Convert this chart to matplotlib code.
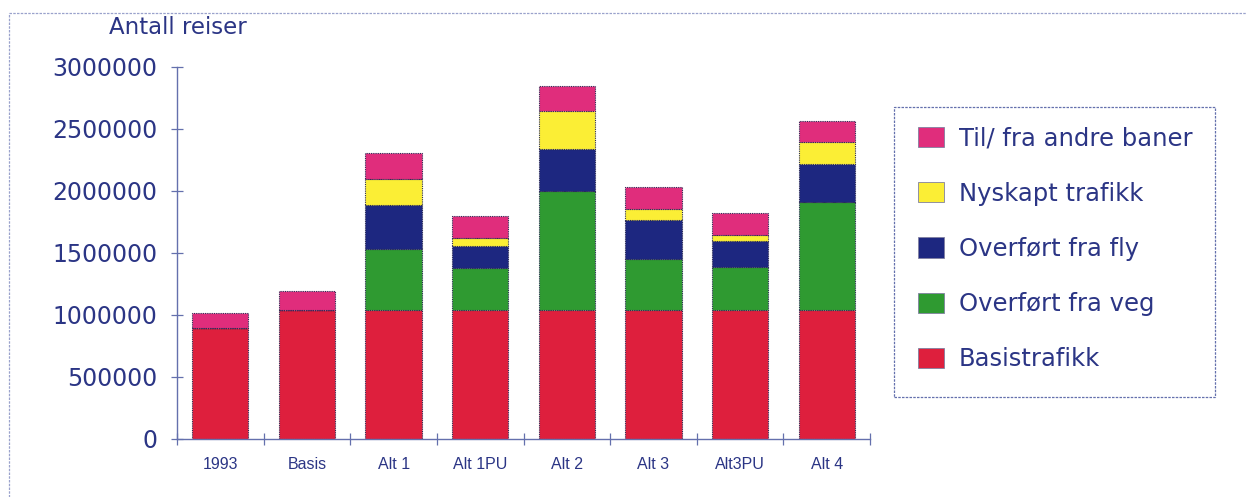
import matplotlib
matplotlib.use("Agg")
import matplotlib.pyplot as plt
from matplotlib.lines import Line2D
from matplotlib.patches import Patch, Rectangle
import numpy as np

# Categories and series (number of journeys)
categories = ["1993", "Basis", "Alt 1", "Alt 1PU", "Alt 2", "Alt 3", "Alt3PU", "Alt 4"]
basistrafikk = [890000, 1040000, 1040000, 1040000, 1040000, 1040000, 1040000, 1040000]
overfort_veg = [0, 0, 490000, 335000, 960000, 408000, 345000, 873000]
overfort_fly = [0, 0, 355000, 183000, 335000, 314000, 208000, 301000]
nyskapt = [0, 0, 209000, 65000, 310000, 90000, 54000, 180000]
andre_baner = [125000, 148000, 210000, 177000, 205000, 180000, 174000, 172000]

series_names = ["Basistrafikk", "Overført fra veg", "Overført fra fly",
                "Nyskapt trafikk", "Til/ fra andre baner"]
series_values = [basistrafikk, overfort_veg, overfort_fly, nyskapt, andre_baner]
series_colors = ["#de1f3d", "#2f9a31", "#1d2780", "#fbee35", "#e02d7c"]

y_ticks = [0, 500000, 1000000, 1500000, 2000000, 2500000, 3000000]

text_color = "#2b3585"
axis_color = "#6470ad"
plt.rcParams["font.family"] = ["DejaVu Sans"]

W, H = 1246, 497
fig = plt.figure(figsize=(W / 100, H / 100), dpi=100)
fig.patch.set_facecolor("white")

ax = fig.add_axes([177 / W, (H - 438.5) / H, 693 / W, (438.5 - 67) / H])

x = np.arange(len(categories))
bottom = np.zeros(len(categories))
handles = []
for name, vals, col in zip(series_names, series_values, series_colors):
    vals = np.array(vals, dtype=float)
    ax.bar(x, vals, width=0.65, bottom=bottom, color=col,
           edgecolor="#2c2c55", linewidth=0.8, linestyle=(0, (1, 1)))
    bottom += vals
    handles.append(Patch(facecolor=col, edgecolor="#8080a0", linewidth=0.6, label=name))

ax.set_xlim(-0.5, len(categories) - 0.5)
ax.set_ylim(0, 3000000)
ax.set_yticks(y_ticks)
ax.set_yticklabels([str(v) for v in y_ticks])
ax.set_xticks(x)
ax.set_xticklabels(categories, family=["Liberation Sans", "DejaVu Sans"])
ax.set_xticks(np.arange(len(categories) + 1) - 0.5, minor=True)

for side in ("top", "right"):
    ax.spines[side].set_visible(False)
for side in ("left", "bottom"):
    ax.spines[side].set_color(axis_color)
    ax.spines[side].set_linewidth(1.0)

ax.tick_params(axis="y", direction="inout", length=8, width=0.9, color=axis_color,
               labelcolor=text_color, labelsize=17, pad=10)
ax.tick_params(axis="x", which="major", length=0, labelcolor=text_color,
               labelsize=11.5, pad=13)
ax.tick_params(axis="x", which="minor", direction="inout", length=8, width=0.9,
               color=axis_color)

fig.text(109 / W, 1 - 28 / H, "Antall reiser", ha="left", va="center",
         fontsize=16.5, color=text_color)

# Legend box drawn as its own rectangle, entries placed inside it
fig.add_artist(Rectangle((894 / W, 1 - 397 / H), (1215 - 894) / W, (397 - 107) / H,
                         transform=fig.transFigure, facecolor="white",
                         edgecolor=axis_color, linewidth=0.9, linestyle=(0, (2, 1))))
leg = fig.legend(handles=handles[::-1], loc="upper left",
                 bbox_to_anchor=(897 / W, 1 - 106 / H), fontsize=17.5,
                 handlelength=1.07, handleheight=0.9, handletextpad=0.62,
                 labelspacing=1.28, borderpad=0.85, borderaxespad=0,
                 frameon=False)
for t in leg.get_texts():
    t.set_color(text_color)

# Light outer frame on the top and left edges of the chart area
frame_kw = dict(color="#9aa2cc", linewidth=0.9, linestyle=(0, (2, 1)))
fig.add_artist(Line2D([9 / W, 9 / W], [0, 1 - 13 / H], transform=fig.transFigure, **frame_kw))
fig.add_artist(Line2D([9 / W, 1], [1 - 13 / H, 1 - 13 / H], transform=fig.transFigure, **frame_kw))

fig.savefig("out.png", dpi=100)
